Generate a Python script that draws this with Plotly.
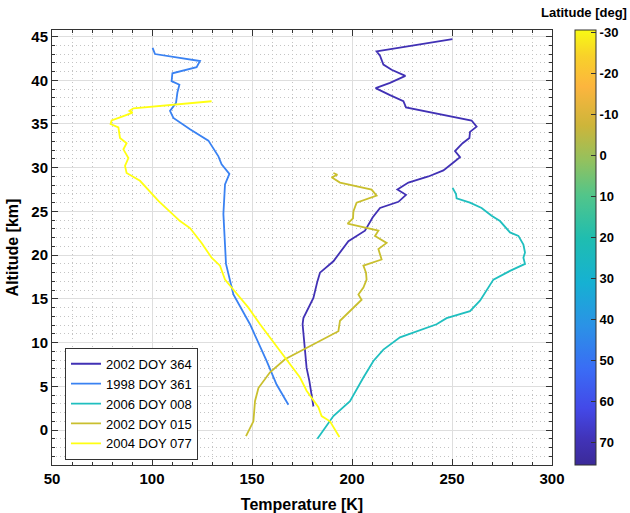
import plotly.graph_objects as go

# ---------------- data ----------------
names = ["2002 DOY 364", "1998 DOY 361", "2006 DOY 008", "2002 DOY 015", "2004 DOY 077"]
latitudes = [72, 48, 26, -8, -32]

t_364 = [250.2, 212.3, 214.0, 215.7, 219.8, 226.7, 219.0, 211.8, 219.0, 225.7, 227.0, 259.8, 262.3, 259.0,
         258.7, 255.3, 251.5, 254.0, 250.7, 245.7, 238.2, 228.2, 222.7, 227.0, 223.2, 214.0, 210.3, 206.5,
         198.2, 190.7, 184.0, 182.7, 180.7, 175.7, 175.3, 176.5, 177.3, 178.7, 179.8, 180.7]
a_364 = [44.7, 43.3, 42.8, 41.8, 41.2, 40.5, 39.7, 39.1, 38.3, 37.6, 36.9, 35.4, 34.7, 34.1,
         33.4, 32.8, 31.9, 31.2, 30.6, 29.7, 29.0, 28.3, 27.5, 26.9, 26.1, 25.4, 24.3, 22.8,
         21.6, 19.3, 18.0, 17.0, 15.1, 12.8, 12.1, 9.4, 7.1, 5.6, 4.1, 2.7]

t_361 = [100.3, 101.5, 124.0, 122.3, 110.2, 109.8, 113.7, 112.7, 112.0, 109.0, 110.7, 119.0, 128.2,
         133.2, 134.8, 138.7, 136.5, 135.7, 136.5, 137.0, 140.7, 149.0, 157.3, 162.3, 168.2]
a_361 = [43.7, 43.0, 42.2, 41.5, 40.8, 39.9, 39.5, 38.6, 37.4, 36.5, 35.7, 34.4, 33.1,
         31.3, 30.4, 29.3, 28.1, 24.7, 21.2, 19.0, 15.5, 12.1, 7.9, 5.2, 2.9]

t_008 = [250.3, 252.0, 252.3, 259.0, 264.8, 269.8, 274.0, 279.0, 283.2, 285.7, 286.5, 285.7, 286.5,
         279.0, 270.7, 268.2, 264.0, 259.0, 247.3, 242.3, 224.0, 215.7, 210.7, 205.7, 199.0, 190.7, 182.7]
a_008 = [27.7, 27.0, 26.5, 26.0, 25.4, 24.5, 23.9, 22.6, 22.2, 21.2, 20.3, 19.7, 19.0,
         18.2, 17.2, 16.3, 14.8, 13.6, 12.8, 12.1, 10.6, 9.2, 7.9, 6.0, 3.3, 1.6, -1.0]

t_015 = [190.7, 192.7, 189.8, 194.0, 209.8, 212.3, 202.3, 200.7, 200.5, 197.8, 213.2, 211.5, 217.3,
         213.2, 214.8, 205.7, 207.0, 207.3, 205.7, 203.2, 204.8, 199.0, 194.0, 193.2, 189.0,
         175.7, 166.5, 159.0, 153.2, 151.5, 150.7, 147.0]
a_015 = [29.4, 29.2, 28.9, 28.3, 27.5, 26.8, 26.0, 25.0, 24.2, 23.6, 22.8, 22.2, 21.4,
         20.7, 19.5, 18.8, 18.0, 17.2, 16.3, 15.5, 14.9, 13.6, 12.5, 11.3, 10.8,
         9.2, 8.1, 6.6, 4.8, 3.3, 1.0, -0.7]

t_077 = [129.8, 90.7, 88.7, 90.3, 85.7, 79.8, 79.3, 83.2, 84.0, 87.3, 85.7, 88.2, 86.5, 87.3, 94.0,
         99.0, 103.2, 114.0, 119.0, 124.8, 129.8, 134.0, 136.5, 139.8, 148.2, 154.0, 159.0, 164.0,
         169.0, 174.0, 177.3, 179.8, 183.2, 184.8, 189.0, 193.7]
a_077 = [37.6, 36.8, 36.5, 36.3, 35.9, 35.4, 35.0, 34.6, 33.4, 32.8, 32.1, 31.1, 30.2, 29.4, 28.5,
         27.3, 26.2, 23.9, 23.1, 21.4, 19.7, 18.8, 17.2, 16.3, 14.0, 12.1, 10.6, 9.0,
         7.5, 6.0, 4.5, 3.7, 2.6, 1.6, 1.0, -0.8]

temps = [t_364, t_361, t_008, t_015, t_077]
alts = [a_364, a_361, a_008, a_015, a_077]

cbar_ticks = [70, 60, 50, 40, 30, 20, 10, 0, -10, -20, -30]
x_ticks = [50, 100, 150, 200, 250, 300]
y_ticks = [0, 5, 10, 15, 20, 25, 30, 35, 40, 45]

# ---------------- style ----------------
line_colors = ["#4131b5", "#3a82f2", "#1fbfbf", "#c9bf2e", "#ffff12"]
parula = [
    [0.0, "#3b2a98"], [0.06, "#4133b8"], [0.13, "#4349e8"], [0.22, "#3a6cf5"],
    [0.32, "#2b92e6"], [0.42, "#16b1d2"], [0.52, "#1fbdb0"], [0.62, "#52c58a"],
    [0.70, "#93c15e"], [0.78, "#cdb53a"], [0.87, "#fcb53e"], [0.94, "#f8d12a"],
    [1.0, "#f8fa14"],
]
FONT = "Liberation Sans"

fig = go.Figure()
for name, t, a, c in zip(names, temps, alts, line_colors):
    fig.add_trace(go.Scatter(x=t, y=a, mode="lines", name=name,
                             line=dict(color=c, width=1.8)))

# colorbar carrier (negated latitude so that -30 is on top)
lat_min, lat_max = -30.7, 75.6
fig.add_trace(go.Scatter(
    x=[150], y=[20], mode="markers", showlegend=False, hoverinfo="skip",
    marker=dict(size=0.1, opacity=0, color=[-l for l in latitudes],
                colorscale=parula, cmin=-lat_max, cmax=-lat_min, showscale=True,
                colorbar=dict(
                    tickvals=[-v for v in cbar_ticks],
                    ticktext=["<b>%d</b>" % v for v in cbar_ticks],
                    tickfont=dict(family=FONT, size=13, color="black"),
                    ticks="inside", ticklen=5, tickcolor="#333333",
                    outlinecolor="#333333", outlinewidth=1,
                    thickness=21, len=1.0, lenmode="fraction", y=0.5, yanchor="middle",
                    x=1.046, xanchor="left", xpad=0, ypad=0,
                ))))

axis_common = dict(
    showline=True, linecolor="#333333", linewidth=1, mirror="allticks",
    ticks="inside", ticklen=6, tickcolor="#333333",
    showgrid=True, gridcolor="#dedede", gridwidth=1.3, zeroline=False,
    tickfont=dict(family=FONT, size=15, color="black"),
)
minor_common = dict(ticks="inside", ticklen=3, tickcolor="#333333",
                    showgrid=True, gridcolor="#c4c4c4", griddash="1px,3px", gridwidth=1)

fig.update_xaxes(
    range=[50, 300],
    tickvals=x_ticks, ticktext=["<b>%d</b>" % v for v in x_ticks],
    title=dict(text="<b>Temperature [K]</b>", font=dict(family=FONT, size=16, color="black"), standoff=12),
    minor=dict(dtick=10, tick0=0, **minor_common),
    **axis_common)
fig.update_yaxes(
    range=[-4, 45.75],
    tickvals=y_ticks, ticktext=["<b>%d</b>" % v for v in y_ticks],
    title=dict(text="<b>Altitude [km]</b>", font=dict(family=FONT, size=16, color="black"), standoff=8),
    minor=dict(dtick=1, tick0=0, **minor_common),
    **axis_common)

fig.add_annotation(text="<b>Latitude [deg]</b>", xref="paper", yref="paper",
                   x=1.154, y=1.04, xanchor="right", yanchor="middle", showarrow=False,
                   font=dict(family=FONT, size=13, color="black"))

fig.update_layout(
    width=630, height=513,
    margin=dict(l=52, r=78, t=30, b=48, autoexpand=False),
    paper_bgcolor="white", plot_bgcolor="white",
    font=dict(family=FONT, color="black"),
    legend=dict(x=0.026, y=0.012, xanchor="left", yanchor="bottom",
                bgcolor="white", bordercolor="#333333", borderwidth=1,
                font=dict(family=FONT, size=13, color="black"),
                tracegroupgap=0, itemwidth=30),
)

fig.write_html("out.html")
